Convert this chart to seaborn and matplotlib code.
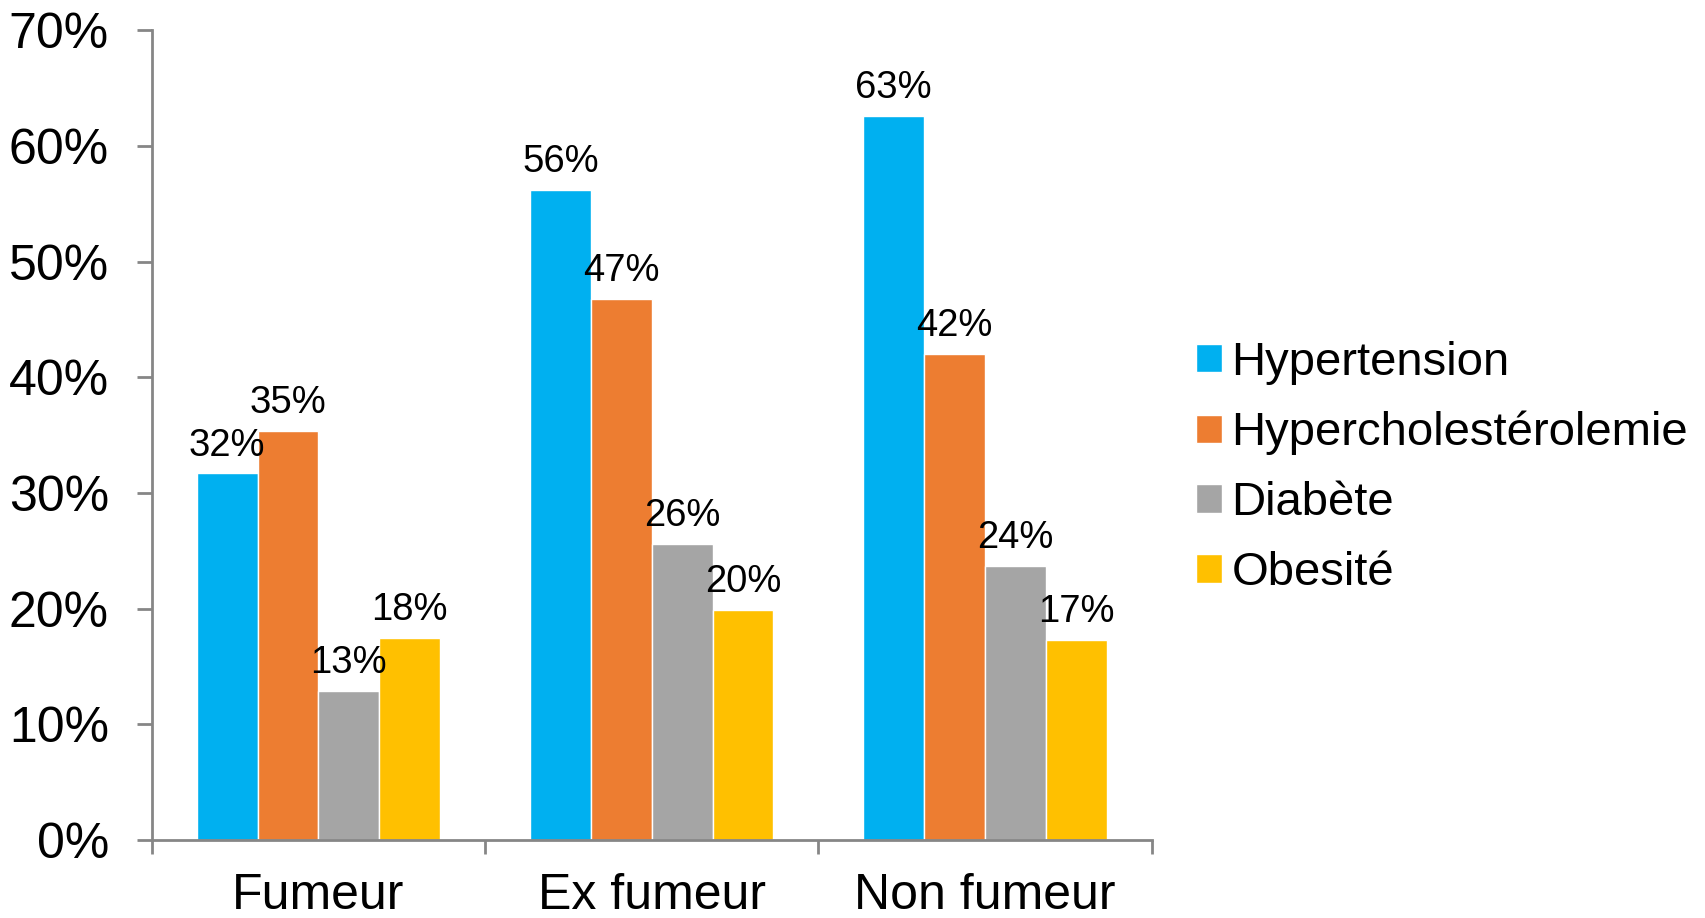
import numpy as np
import pandas as pd
import seaborn as sns
import matplotlib.pyplot as plt
from matplotlib.ticker import FuncFormatter, FixedLocator

groups = ["Fumeur", "Ex fumeur", "Non fumeur"]
conditions = ["Hypertension", "Hypercholestérolemie", "Diabète", "Obesité"]
hypertension = [31.7, 56.2, 62.6]
cholesterol = [35.4, 46.8, 42.0]
diabete = [12.9, 25.6, 23.7]
obesite = [17.5, 19.9, 17.3]
colors = ["#00B0F0", "#ED7D31", "#A5A5A5", "#FFC000"]

df = pd.DataFrame({
    "groupe": np.repeat(groups, 4),
    "condition": conditions * 3,
    "valeur": [v for vals in zip(hypertension, cholesterol, diabete, obesite) for v in vals],
})

sns.set_style("white")
plt.rcParams["font.family"] = ["Liberation Sans", "DejaVu Sans"]
plt.rcParams["text.color"] = "black"
plt.rcParams["xtick.color"] = "black"
plt.rcParams["ytick.color"] = "black"

fig = plt.figure(figsize=(17.06, 9.18), dpi=100)
ax = fig.add_axes([0.089, 0.085, 0.586, 0.882])
sns.barplot(data=df, x="groupe", y="valeur", hue="condition", hue_order=conditions,
            palette=colors, width=0.73, gap=0, saturation=1, ax=ax, legend=True)

for c in ax.containers:
    ax.bar_label(c, labels=[f"{v:.0f}%" for v in c.datavalues], fontsize=27.5, padding=7)

ax.set_ylim(0, 70)
ax.set_xlim(-0.5, 2.5)
ax.set_yticks(np.arange(0, 71, 10))
ax.yaxis.set_major_formatter(FuncFormatter(lambda v, p: f"{v:.0f}%"))
ax.set_xlabel("")
ax.set_ylabel("")

grey = "#868686"
for s in ["top", "right"]:
    ax.spines[s].set_visible(False)
for s in ["left", "bottom"]:
    ax.spines[s].set_color(grey)
    ax.spines[s].set_linewidth(2)

ax.tick_params(axis="y", which="major", length=11, width=2, color=grey, pad=20, labelsize=36, left=True)
ax.xaxis.set_minor_locator(FixedLocator([-0.5, 0.5, 1.5, 2.5]))
ax.tick_params(axis="x", which="minor", length=10, width=2, color=grey, bottom=True)
ax.tick_params(axis="x", which="major", length=0, pad=24, labelsize=36)

leg = ax.legend(loc="center left", bbox_to_anchor=(0.690, 0.490), bbox_transform=fig.transFigure,
                frameon=False, fontsize=34, handlelength=0.55, handleheight=0.55,
                handletextpad=0.2, labelspacing=0.55, borderaxespad=0)

fig.savefig("out.png", dpi=100)
plt.close(fig)
